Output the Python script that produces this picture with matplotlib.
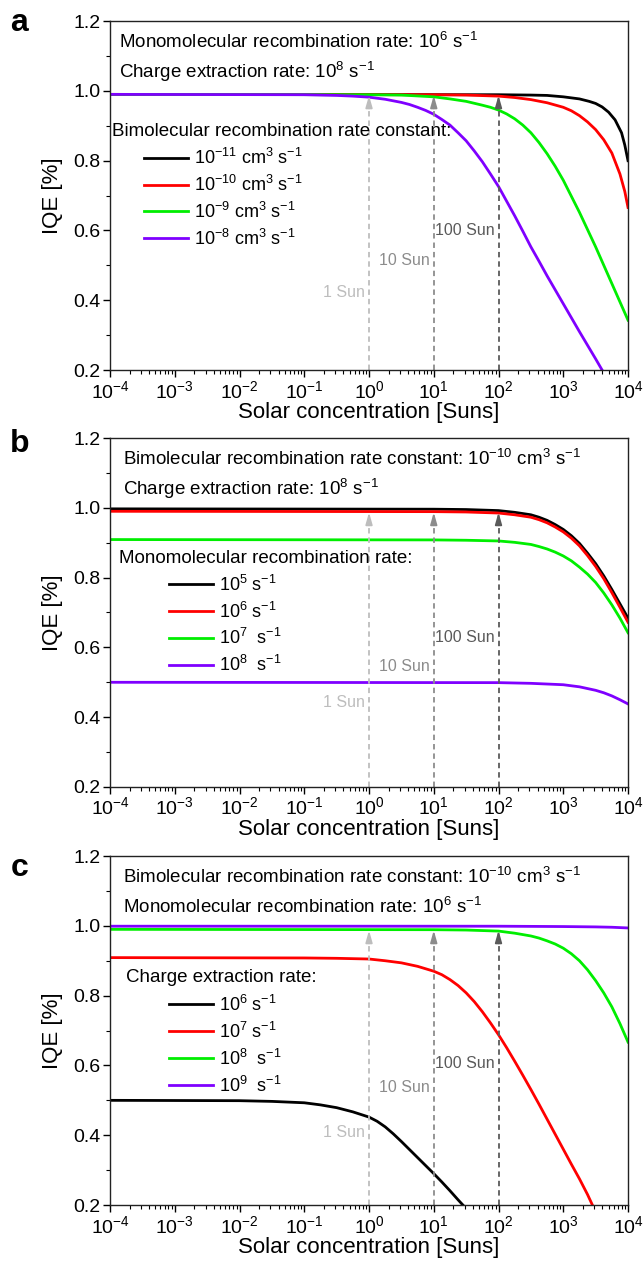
import numpy as np
import matplotlib
matplotlib.use('Agg')
import matplotlib.pyplot as plt
from matplotlib.ticker import LogLocator, MultipleLocator, NullFormatter

plt.rcParams['font.family'] = ['Liberation Sans', 'DejaVu Sans']
plt.rcParams['mathtext.fontset'] = 'custom'
plt.rcParams['mathtext.rm'] = 'Liberation Sans'
plt.rcParams['mathtext.it'] = 'Liberation Sans:italic'
plt.rcParams['mathtext.bf'] = 'Liberation Sans:bold'
plt.rcParams['mathtext.default'] = 'regular'

# ---- data (x given as log10 of solar concentration) ----
# panel a: bimolecular recombination rate constant
a_k11_x = [-4, 2, 2.5, 2.75, 3, 3.25, 3.4, 3.5, 3.6, 3.7, 3.8, 3.9, 3.95, 4]
a_k11_y = [0.990, 0.989, 0.988, 0.987, 0.983, 0.977, 0.970, 0.964, 0.954, 0.939, 0.917, 0.880, 0.845, 0.800]
a_k10_x = [-4, 1, 1.5, 2, 2.25, 2.5, 2.75, 3, 3.125, 3.25, 3.375, 3.5, 3.625, 3.75, 3.875, 3.95, 4]
a_k10_y = [0.990, 0.989, 0.988, 0.985, 0.981, 0.975, 0.966, 0.953, 0.943, 0.929, 0.911, 0.889, 0.860, 0.822, 0.762, 0.712, 0.666]
a_k9_x = [-4, 0, 0.5, 1, 1.25, 1.5, 1.75, 1.875, 2, 2.125, 2.25, 2.375, 2.5, 2.625, 2.75, 2.875,
          3, 3.25, 3.5, 3.75, 4]
a_k9_y = [0.990, 0.989, 0.988, 0.983, 0.977, 0.970, 0.959, 0.953, 0.945, 0.934, 0.920, 0.902, 0.880, 0.852, 0.820, 0.784,
          0.744, 0.652, 0.553, 0.448, 0.343]
a_k8_x = [-4, -1, -0.5, -0.25, 0, 0.25, 0.5, 0.625, 0.75, 0.875, 1, 1.125, 1.25, 1.375, 1.5, 1.625, 1.75, 1.875,
          2, 2.125, 2.25, 2.375, 2.5, 2.625, 2.75, 2.875, 3, 3.125, 3.25, 3.375, 3.5, 3.6]
a_k8_y = [0.990, 0.989, 0.987, 0.985, 0.982, 0.976, 0.967, 0.961, 0.953, 0.944, 0.933, 0.918, 0.902, 0.880, 0.857, 0.828, 0.797, 0.762,
          0.726, 0.684, 0.642, 0.598, 0.553, 0.512, 0.470, 0.430, 0.390, 0.350, 0.310, 0.271, 0.232, 0.200]

# panel b: monomolecular recombination rate
b_x = [-4, 1, 1.5, 2, 2.25, 2.5, 2.625, 2.75, 2.875, 3, 3.125, 3.25, 3.375, 3.5, 3.625, 3.75, 3.875, 4]
b_m5_y = [0.997, 0.996, 0.995, 0.992, 0.987, 0.980, 0.973, 0.964, 0.952, 0.938, 0.920, 0.898, 0.870, 0.840, 0.805, 0.766, 0.725, 0.684]
b_m6_y = [0.990, 0.989, 0.988, 0.985, 0.980, 0.973, 0.966, 0.957, 0.945, 0.931, 0.913, 0.891, 0.863, 0.832, 0.797, 0.757, 0.715, 0.672]
b_m7_y = [0.909, 0.908, 0.907, 0.905, 0.901, 0.895, 0.889, 0.882, 0.873, 0.862, 0.848, 0.830, 0.810, 0.786, 0.756, 0.722, 0.684, 0.642]
b_m8_x = [-4, 2, 2.5, 2.75, 3, 3.25, 3.5, 3.625, 3.75, 3.875, 4]
b_m8_y = [0.500, 0.499, 0.497, 0.495, 0.493, 0.487, 0.477, 0.470, 0.461, 0.450, 0.438]

# panel c: charge extraction rate
c_e6_x = [-4, -2, -1.5, -1, -0.75, -0.5, -0.25, 0, 0.125, 0.25, 0.375, 0.5, 0.625, 0.75, 0.875,
          1, 1.125, 1.25, 1.375, 1.45]
c_e6_y = [0.500, 0.499, 0.497, 0.493, 0.487, 0.479, 0.467, 0.452, 0.440, 0.424, 0.404, 0.382, 0.359, 0.336, 0.313,
          0.290, 0.266, 0.241, 0.215, 0.200]
c_e7_x = [-4, -1, -0.5, 0, 0.25, 0.5, 0.625, 0.75, 0.875, 1, 1.125, 1.25, 1.375, 1.5, 1.625, 1.75, 1.875,
          2, 2.125, 2.25, 2.375, 2.5, 2.625, 2.75, 2.875, 3, 3.125, 3.25, 3.375, 3.45]
c_e7_y = [0.909, 0.908, 0.907, 0.905, 0.900, 0.894, 0.889, 0.884, 0.877, 0.870, 0.860, 0.846, 0.829, 0.808, 0.783, 0.754, 0.722,
          0.688, 0.651, 0.612, 0.572, 0.531, 0.489, 0.446, 0.403, 0.360, 0.317, 0.275, 0.230, 0.200]
c_e8_x = [-4, 1, 1.5, 2, 2.25, 2.5, 2.625, 2.75, 2.875, 3, 3.125, 3.25, 3.375, 3.5, 3.625, 3.75, 3.875, 4]
c_e8_y = [0.990, 0.989, 0.988, 0.985, 0.979, 0.971, 0.965, 0.957, 0.948, 0.936, 0.920, 0.900, 0.874, 0.843, 0.808, 0.768, 0.720, 0.667]
c_e9_x = [-4, 2, 3, 3.5, 3.75, 4]
c_e9_y = [0.999, 0.999, 0.998, 0.997, 0.996, 0.994]

colors = ['#000000', '#ff0000', '#00ee00', '#7f00ff']

a_labels = ['10$^{-11}$ cm$^{3}$ s$^{-1}$', '10$^{-10}$ cm$^{3}$ s$^{-1}$',
            '10$^{-9}$ cm$^{3}$ s$^{-1}$', '10$^{-8}$ cm$^{3}$ s$^{-1}$']
b_labels = ['10$^{5}$ s$^{-1}$', '10$^{6}$ s$^{-1}$', '10$^{7}$  s$^{-1}$', '10$^{8}$  s$^{-1}$']
c_labels = ['10$^{6}$ s$^{-1}$', '10$^{7}$ s$^{-1}$', '10$^{8}$  s$^{-1}$', '10$^{9}$  s$^{-1}$']

bimol = 'Bimolecular recombination rate constant: 10$^{-10}$ cm$^{3}$ s$^{-1}$'
mono = 'Monomolecular recombination rate: 10$^{6}$ s$^{-1}$'
extr = 'Charge extraction rate: 10$^{8}$ s$^{-1}$'

sun_x = [1, 10, 100]
sun_names = ['1 Sun', '10 Sun', '100 Sun']
sun_colors = ['#bdbdbd', '#8c8c8c', '#5a5a5a']

panels = [
    dict(letter='a', curves=[(a_k11_x, a_k11_y), (a_k10_x, a_k10_y), (a_k9_x, a_k9_y), (a_k8_x, a_k8_y)],
         labels=a_labels, head=[mono, extr], title='Bimolecular recombination rate constant:',
         head_x=0.017, title_x=0.003, title_y=0.684, leg_x=0.066, leg_y=0.637,
         sun_y=[0.422, 0.515, 0.601]),
    dict(letter='b', curves=[(b_x, b_m5_y), (b_x, b_m6_y), (b_x, b_m7_y), (b_m8_x, b_m8_y)],
         labels=b_labels, head=[bimol, extr], title='Monomolecular recombination rate:',
         head_x=0.026, title_x=0.018, title_y=0.655, leg_x=0.114, leg_y=0.609,
         sun_y=[0.443, 0.545, 0.627]),
    dict(letter='c', curves=[(c_e6_x, c_e6_y), (c_e7_x, c_e7_y), (c_e8_x, c_e8_y), (c_e9_x, c_e9_y)],
         labels=c_labels, head=[bimol, mono], title='Charge extraction rate:',
         head_x=0.026, title_x=0.03, title_y=0.653, leg_x=0.114, leg_y=0.603,
         sun_y=[0.408, 0.537, 0.606]),
]

fig = plt.figure(figsize=(6.43, 12.63), dpi=100)
bottoms = [0.7070, 0.3769, 0.0459]
letter_y = [0.994, 0.660, 0.325]

for p, bot, ly in zip(panels, bottoms, letter_y):
    ax = fig.add_axes([0.1711, bot, 0.8056, 0.2763])
    for (lx, ly_), col, lab in zip(p['curves'], colors, p['labels']):
        ax.plot(10 ** np.array(lx), ly_, color=col, lw=2.0, label=lab)

    # dashed arrows at 1, 10, 100 suns
    for sx, name, scol, sy in zip(sun_x, sun_names, sun_colors, p['sun_y']):
        ax.plot([sx, sx], [0.2, 0.955], color=scol, lw=1.3, ls=(0, (3, 2.2)))
        ax.annotate('', xy=(sx, 0.987), xytext=(sx, 0.95),
                    arrowprops=dict(arrowstyle='-|>,head_length=0.7,head_width=0.2',
                                    color=scol, lw=1.3, shrinkA=0, shrinkB=0))
        ax.text(sx * 0.87, sy, name, color=scol, fontsize=11.5, ha='right', va='center')

    ax.set_xscale('log')
    ax.set_xlim(1e-4, 1e4)
    ax.set_ylim(0.2, 1.2)
    ax.xaxis.set_major_locator(LogLocator(base=10, numticks=20))
    ax.xaxis.set_minor_locator(LogLocator(base=10, subs=np.arange(2, 10), numticks=20))
    ax.xaxis.set_minor_formatter(NullFormatter())
    ax.yaxis.set_major_locator(MultipleLocator(0.2))
    ax.yaxis.set_minor_locator(MultipleLocator(0.1))
    ax.tick_params(which='major', direction='out', length=5, width=1, labelsize=14, pad=2)
    ax.tick_params(which='minor', direction='out', length=3, width=0.8)
    for s in ax.spines.values():
        s.set_linewidth(1.0)
        s.set_color('#222222')
    ax.set_xlabel('Solar concentration [Suns]', fontsize=16, labelpad=0)
    ax.set_ylabel('IQE [%]', fontsize=16, labelpad=7)

    ax.text(p['head_x'], 0.94, p['head'][0], transform=ax.transAxes, fontsize=13.5, va='center')
    ax.text(p['head_x'], 0.855, p['head'][1], transform=ax.transAxes, fontsize=13.5, va='center')
    ax.text(p['title_x'], p['title_y'], p['title'], transform=ax.transAxes, fontsize=13.5, va='center')
    ax.legend(loc='upper left', bbox_to_anchor=(p['leg_x'], p['leg_y']), frameon=False,
              fontsize=13, handlelength=2.45, handletextpad=0.3, labelspacing=0.38,
              borderpad=0, borderaxespad=0)

    fig.text(0.016, ly, p['letter'], fontsize=23, fontweight='bold', va='top', ha='left')

fig.savefig('out.png', dpi=100)
